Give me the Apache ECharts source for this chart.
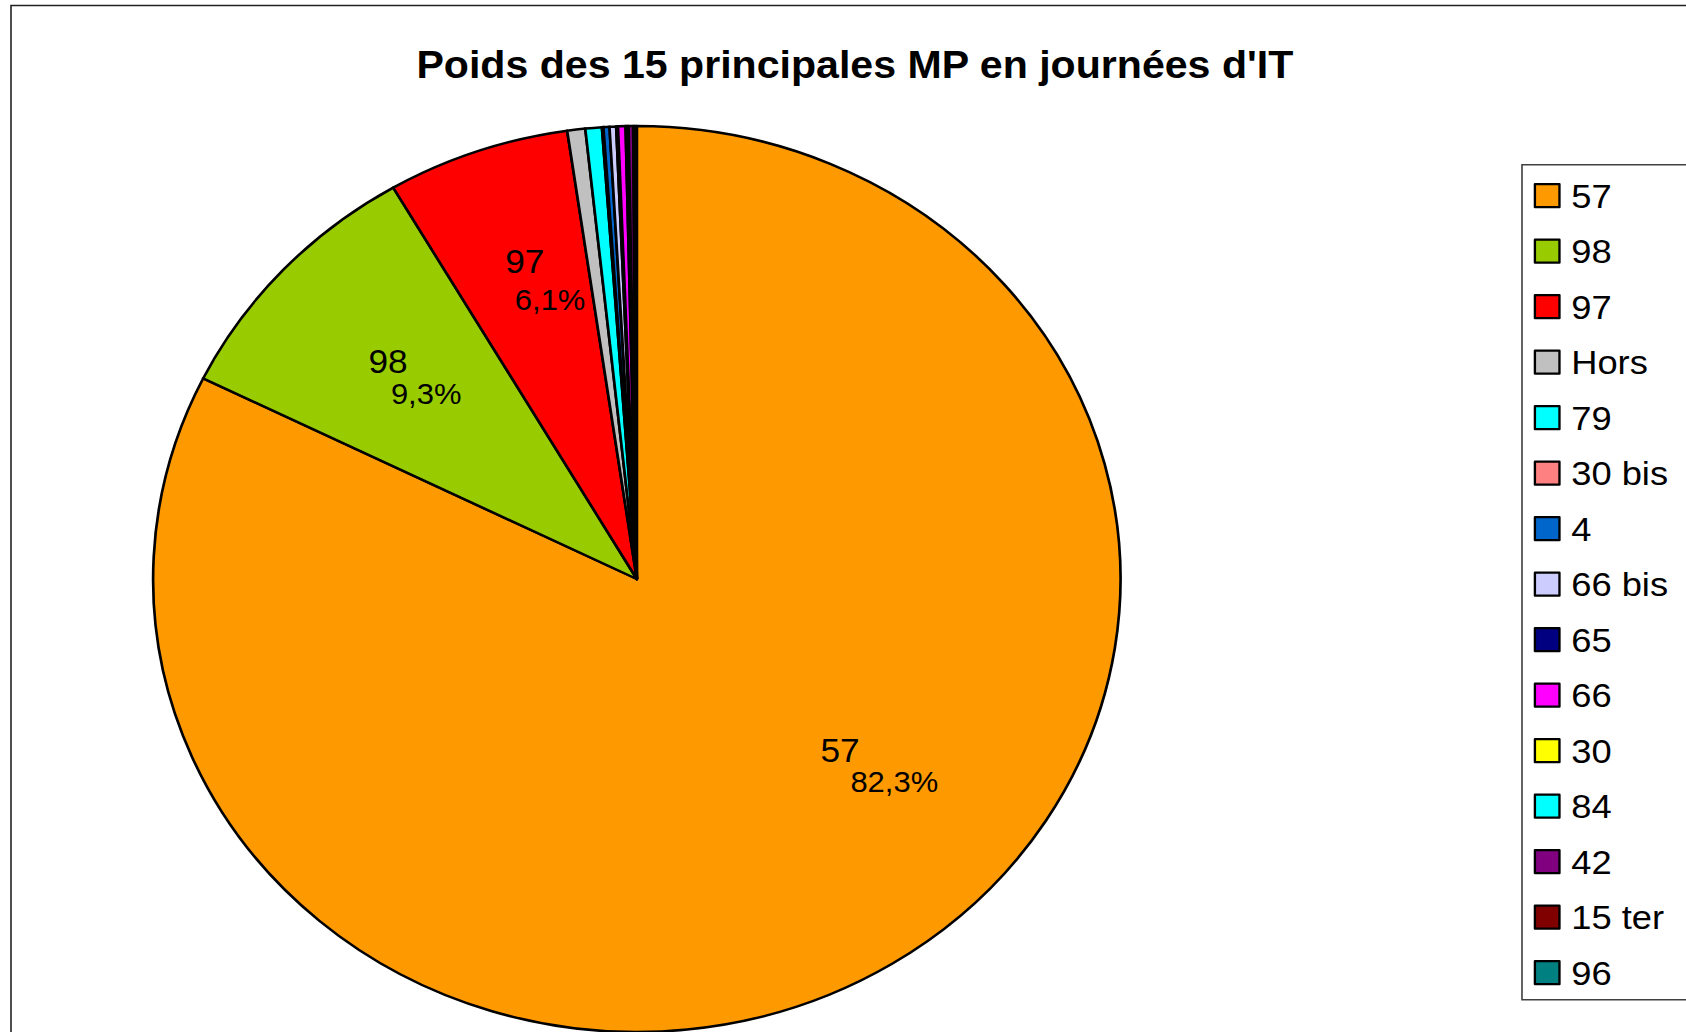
<!DOCTYPE html>
<html>
<head>
<meta charset="utf-8">
<script src="https://cdn.jsdelivr.net/npm/echarts@6/dist/echarts.min.js"></script>
<style>
  html, body { margin: 0; padding: 0; background: #fff; overflow: hidden; }
  #wrap { width: 1686px; height: 1032px; overflow: hidden; }
  /* the original picture is stretched horizontally, so draw narrower and stretch */
  #chart { width: 1579px; height: 1032px; transform: scaleX(1.06776); transform-origin: 0 0; }
</style>
</head>
<body>
<div id="wrap"><div id="chart"></div></div>
<script>
var categories = ['57', '98', '97', 'Hors', '79', '30 bis', '4', '66 bis', '65', '66', '30', '84', '42', '15 ter', '96'];
// share of days (%)
var shares = [82.3, 9.3, 6.1, 0.6, 0.55, 0.05, 0.2, 0.22, 0.06, 0.25, 0.05, 0.05, 0.15, 0.05, 0.07];
var colors = ['#ff9900', '#99cc00', '#ff0000', '#c0c0c0', '#00ffff', '#ff8080', '#0066cc', '#ccccff',
    '#000080', '#ff00ff', '#ffff00', '#00ffff', '#800080', '#800000', '#008080'];
var titleText = "Poids des 15 principales MP en journées d'IT";

// label tweaks for the three labelled slices: shift from the inside spot, indent of the % line
var labelTweak = {
    0: { dx: 106, dy: -9, indent: 28, gap: 0 },
    1: { dx: -40, dy: -46, indent: 21, gap: 0 },
    2: { dx: -10, dy: -86, indent: 9, gap: 14 }
};

var FONT = '"Liberation Sans", Arial, sans-serif';

function pieData() {
    return categories.map(function (name, i) {
        var item = { name: name, value: shares[i], itemStyle: { color: colors[i] } };
        var t = labelTweak[i];
        if (t) {
            item.label = {
                show: true,
                rich: {
                    n: { fontSize: 33, lineHeight: 34, color: '#000', fontFamily: FONT, align: 'left' },
                    p: { fontSize: 29, lineHeight: 30, color: '#000', fontFamily: FONT, align: 'left',
                        padding: [t.gap, 0, 0, t.indent] }
                }
            };
        }
        return item;
    });
}

var myChart = echarts.init(document.getElementById('chart'), null, { renderer: 'svg' });
myChart.setOption({
    animation: false,
    color: colors,
    graphic: [
        {
            type: 'rect',
            silent: true,
            z: -10,
            shape: { x: 10.3, y: 5.5, width: 2000, height: 2000 },
            style: { fill: 'transparent', stroke: '#222', lineWidth: 1.5 }
        },
        {
            type: 'text',
            silent: true,
            x: 800.6,
            y: 64,
            style: {
                text: titleText,
                font: 'bold 38.5px ' + FONT,
                fill: '#000',
                align: 'center',
                verticalAlign: 'middle'
            }
        }
    ],
    legend: {
        orient: 'vertical',
        left: 1425.4,
        top: 164.7,
        padding: [14, 40, 10, 11],
        backgroundColor: '#fff',
        borderColor: '#404040',
        borderWidth: 1.5,
        borderRadius: 0,
        icon: 'rect',
        itemWidth: 23,
        itemHeight: 23,
        itemGap: 21.5,
        selectedMode: false,
        itemStyle: { borderColor: '#000', borderWidth: 2.2 },
        textStyle: { fontSize: 34, lineHeight: 34, color: '#000', fontFamily: FONT, padding: [0, 0, 0, 6] },
        data: categories
    },
    series: [{
        type: 'pie',
        center: [596.4, 579],
        radius: [0, 453],
        startAngle: 90,
        clockwise: true,
        avoidLabelOverlap: false,
        percentPrecision: 2,
        emphasis: { disabled: true },
        itemStyle: { borderColor: '#000', borderWidth: 2.5 },
        label: {
            show: false,
            position: 'inside',
            formatter: function (p) {
                return '{n|' + p.name + '}\n{p|' + p.percent.toFixed(1).replace('.', ',') + '%}';
            }
        },
        labelLine: { show: false },
        labelLayout: function (params) {
            var t = labelTweak[params.dataIndex];
            return t ? { dx: t.dx, dy: t.dy } : {};
        },
        data: pieData()
    }]
});
</script>
</body>
</html>
